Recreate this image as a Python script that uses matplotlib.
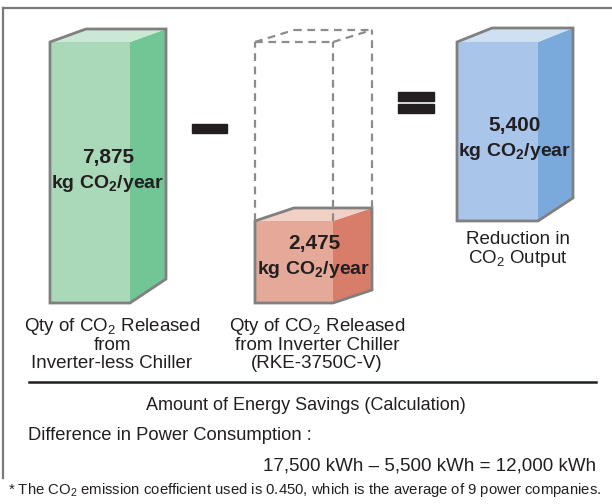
import matplotlib.pyplot as plt
from matplotlib.patches import Polygon, Rectangle

# --- datos ---
vals = {"sin_inv": 7875, "inv": 2475, "reduccion": 5400}
etiquetas_valor = ["7,875", "2,475", "5,400"]
unidad = r"kg CO$_\mathbf{2}$/year"
etiquetas = ["Qty of CO$_2$ Released\nfrom\nInverter-less Chiller",
             "Qty of CO$_2$ Released\nfrom Inverter Chiller\n(RKE-3750C-V)",
             "Reduction in\nCO$_2$ Output"]
titulo_calc = "Amount of Energy Savings (Calculation)"
linea_dif = "Difference in Power Consumption :"
calculo = "17,500 kWh \u2013 5,500 kWh = 12,000 kWh"
nota = "* The CO$_2$ emission coefficient used is 0.450, which is the average of 9 power companies."

plt.rcParams['font.family'] = ['Liberation Sans', 'DejaVu Sans']
plt.rcParams['mathtext.fontset'] = 'custom'
plt.rcParams['mathtext.rm'] = 'Liberation Sans'
plt.rcParams['mathtext.bf'] = 'Liberation Sans:bold'
TXT = '#231f20'
EDGE = '#808080'

fig = plt.figure(figsize=(6.12, 5.04), dpi=100)

# eje de las cajas en kg (base en y=303 px, tope 7875 en y=42 px)
base_px, top_px = 303, 42
bx = fig.add_axes([0, (504 - base_px) / 504, 1, (base_px - top_px) / 504])
bx.set_xlim(0, 612)
bx.set_ylim(0, vals["sin_inv"])
bx.axis('off')
kg_px = vals["sin_inv"] / (base_px - top_px)

# eje de superposicion en pixeles (texto, marco, signos)
ax = fig.add_axes([0, 0, 1, 1])
ax.set_xlim(0, 612)
ax.set_ylim(504, 0)
ax.axis('off')
ax.set_zorder(5)


def caja(x0, w, v0, v1, dx, dyt, dyb, c_front, c_side, c_top):
    dyt *= kg_px
    dyb *= kg_px
    front = [(x0, v0), (x0 + w, v0), (x0 + w, v1), (x0, v1)]
    top = [(x0, v1), (x0 + dx, v1 + dyt), (x0 + w + dx, v1 + dyt), (x0 + w, v1)]
    side = [(x0 + w, v0), (x0 + w + dx, v0 + dyb), (x0 + w + dx, v1 + dyt), (x0 + w, v1)]
    for pts, c in [(front, c_front), (side, c_side), (top, c_top)]:
        bx.add_patch(Polygon(pts, closed=True, facecolor=c, edgecolor='none', clip_on=False))
    sil = [(x0, v0), (x0 + w, v0), (x0 + w + dx, v0 + dyb), (x0 + w + dx, v1 + dyt),
           (x0 + dx, v1 + dyt), (x0, v1)]
    bx.add_patch(Polygon(sil, closed=True, facecolor='none', edgecolor=EDGE,
                         linewidth=2.0, joinstyle='miter', clip_on=False))


v_g, v_r, v_b = vals["sin_inv"], vals["inv"], vals["reduccion"]

# caja verde
caja(50, 80, 0, v_g, 36, 13, 24, '#a9d9b8', '#72c594', '#cae9d4')
# caja roja
caja(255, 78, 0, v_r, 39, 13, 13, '#e5a999', '#d97d6b', '#f2d0c6')
# caja azul (flota sobre la roja)
caja(457, 81, v_r, v_r + v_b, 35, 14, 23, '#a9c5e9', '#7aaadc', '#cfe0f3')

# caja punteada
dy = 12 * kg_px
x0, w, dx = 255, 78, 39
ls = (0, (3.5, 2.5))
dash = dict(color='#8c8c8c', lw=1.6, linestyle=ls, clip_on=False)
bx.plot([x0, x0], [v_r, v_g], **dash)
bx.plot([x0 + w, x0 + w], [v_r, v_g], **dash)
bx.plot([x0 + w + dx, x0 + w + dx], [v_r + 13 * kg_px, v_g + dy], **dash)
bx.plot([x0, x0 + w], [v_g, v_g], **dash)
bx.plot([x0, x0 + dx], [v_g, v_g + dy], **dash)
bx.plot([x0 + dx, x0 + w + dx], [v_g + dy, v_g + dy], **dash)
bx.plot([x0 + w, x0 + w + dx], [v_g, v_g + dy], **dash)

# signos menos e igual
ax.add_patch(Rectangle((192, 124), 35, 9, color='#231f20'))
ax.add_patch(Rectangle((398, 92), 36, 9, color='#231f20'))
ax.add_patch(Rectangle((398, 104), 36, 9, color='#231f20'))

# valores en las cajas
for (xc, y1, y2), s in zip([(108, 157, 184), (314, 243, 270), (515, 126, 152)], etiquetas_valor):
    ax.text(xc, y1, s, ha='center', va='center', fontsize=15, fontweight='bold', color=TXT)
    ax.text(xc, y2, unidad, ha='center', va='center', fontsize=14, fontweight='bold', color=TXT)

# etiquetas bajo las cajas
for (xc, yc), s in zip([(112, 344), (317, 344), (518, 250)], etiquetas):
    ax.text(xc, yc, s, ha='center', va='center', fontsize=13.5, color=TXT, linespacing=1.02)

# marco
ax.plot([3, 612], [8, 8], color='#7a7a7a', lw=1.6)
ax.plot([3, 3], [8, 478], color='#7a7a7a', lw=1.6)
ax.plot([29, 596], [382, 382], color='#231f20', lw=1.8)

# calculo
ax.text(306, 405, titulo_calc, ha='center', va='center', fontsize=13, color=TXT)
ax.text(28, 436, linea_dif, ha='left', va='center', fontsize=13.2, color=TXT)
ax.text(596, 466, calculo, ha='right', va='center', fontsize=13.5, color=TXT)
ax.text(8, 490, nota, ha='left', va='center', fontsize=10.75, color=TXT)

fig.savefig('out.png', dpi=100)
